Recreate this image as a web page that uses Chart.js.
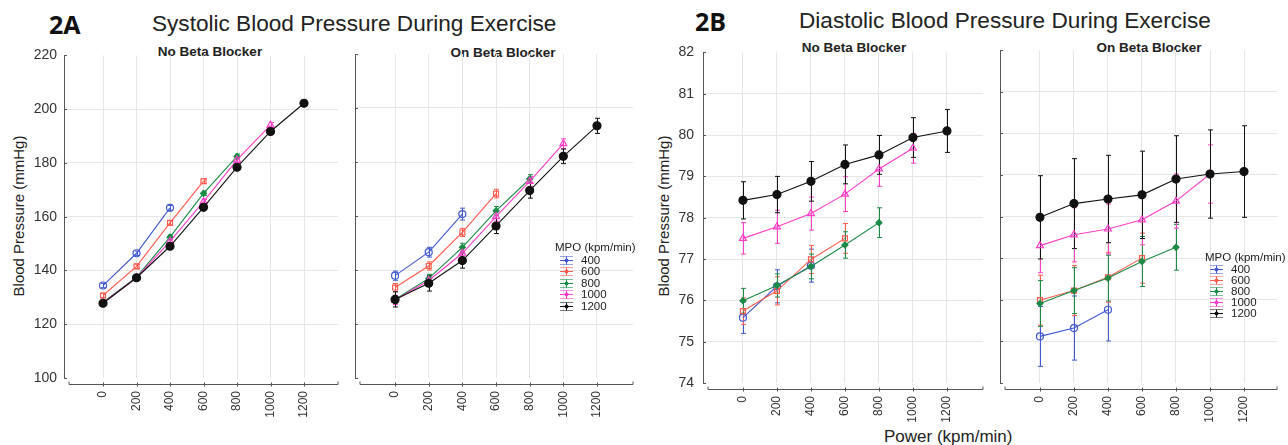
<!DOCTYPE html>
<html lang="en">
<head>
<meta charset="UTF-8">
<title>Blood Pressure During Exercise</title>
<script src="https://cdn.jsdelivr.net/npm/chart.js@4.4.1/dist/chart.umd.min.js"></script>
<style>
  body { margin: 0; background: #fff; width: 1288px; height: 445px; position: relative; overflow: hidden;
         font-family: 'Liberation Sans', Arial, sans-serif; }
  .wrap { position: absolute; }
  .lbl { position: absolute; color: #222; white-space: nowrap; line-height: 1; transform: translateY(-50%); }
  .panel { font-family: 'Open Sans', sans-serif; font-weight: 700; font-size: 25px; color: #111; }
  .title { font-size: 22.6px; }
  .sub { font-weight: 700; font-size: 13.5px; transform: translate(-50%, -50%); }
  .ylab { font-size: 15px; transform: translate(-50%, -50%) rotate(-90deg); }
  .xlab { font-size: 17px; }
</style>
</head>
<body>

<div class="lbl panel" style="left:49px; top:24px;">2A</div>
<div class="lbl title" style="left:152px; top:24px;">Systolic Blood Pressure During Exercise</div>
<div class="lbl panel" style="left:695px; top:21px;">2B</div>
<div class="lbl title" style="left:799px; top:21px;">Diastolic Blood Pressure During Exercise</div>

<div class="lbl sub" style="left:210px; top:52px;">No Beta Blocker</div>
<div class="lbl sub" style="left:503px; top:53px;">On Beta Blocker</div>
<div class="lbl sub" style="left:854px; top:48px;">No Beta Blocker</div>
<div class="lbl sub" style="left:1149px; top:48px;">On Beta Blocker</div>

<div class="lbl ylab" style="left:18px; top:216px;">Blood Pressure (mmHg)</div>
<div class="lbl ylab" style="left:663px; top:216px;">Blood Pressure (mmHg)</div>
<div class="lbl xlab" style="left:884px; top:436px;">Power (kpm/min)</div>

<div class="wrap"><canvas id="sysNo"></canvas></div>
<div class="wrap"><canvas id="sysOn"></canvas></div>
<div class="wrap"><canvas id="diaNo"></canvas></div>
<div class="wrap"><canvas id="diaOn"></canvas></div>

<script>
// MPO groups (kpm/min) and power stages on the x axis
const mpoLevels = [400, 600, 800, 1000, 1200];
const powerTicks = [0, 200, 400, 600, 800, 1000, 1200];

// Systolic, no beta blocker (one row per MPO group)
const sysNoMean = [
  [134.4, 146.4, 163.3],
  [130.7, 141.5, 157.7, 173.2],
  [128.2, 137.5, 152.4, 168.7, 182.4],
  [128.0, 137.3, 150.8, 165.6, 181.1, 194.1],
  [127.8, 137.3, 149.0, 163.5, 178.4, 191.7, 202.2]
];
const sysNoErr = [
  [0.8, 0.8, 0.9],
  [0.8, 0.8, 0.8, 0.9],
  [0.7, 0.7, 0.8, 0.8, 0.9],
  [0.7, 0.7, 0.8, 0.8, 0.9, 0.9],
  [0.7, 0.7, 0.8, 0.8, 0.9, 0.9, 1.0]
];

// Systolic, on beta blocker
const sysOnMean = [
  [137.9, 146.6, 160.7],
  [133.5, 141.5, 153.9, 168.3],
  [129.1, 136.9, 148.4, 161.9, 173.7],
  [128.9, 136.1, 146.2, 159.8, 172.8, 186.8],
  [129.1, 135.1, 143.5, 156.3, 169.4, 182.1, 193.4]
];
const sysOnErr = [
  [1.7, 1.8, 2.2],
  [1.5, 1.5, 1.5, 1.6],
  [1.5, 1.5, 1.5, 1.6, 1.6],
  [1.7, 1.7, 1.7, 1.7, 1.8, 1.8],
  [2.8, 2.9, 2.8, 2.8, 2.8, 2.7, 2.8]
];

// Diastolic, no beta blocker
const diaNoMean = [
  [75.58, 76.34, 76.84],
  [75.74, 76.23, 76.99, 77.50],
  [75.99, 76.36, 76.82, 77.34, 77.88],
  [77.50, 77.78, 78.10, 78.57, 79.18, 79.68],
  [78.42, 78.56, 78.88, 79.29, 79.52, 79.94, 80.10]
];
const diaNoErr = [
  [0.38, 0.40, 0.40],
  [0.32, 0.34, 0.34, 0.36],
  [0.30, 0.28, 0.30, 0.32, 0.36],
  [0.38, 0.40, 0.40, 0.42, 0.42, 0.36],
  [0.45, 0.44, 0.48, 0.47, 0.47, 0.48, 0.52]
];

// Diastolic, on beta blocker
const diaOnMean = [
  [75.12, 75.32, 75.76],
  [75.99, 76.22, 76.54, 77.00],
  [75.91, 76.22, 76.52, 76.92, 77.26],
  [77.30, 77.56, 77.70, 77.92, 78.37, 79.02],
  [77.98, 78.31, 78.42, 78.52, 78.90, 79.02, 79.08]
];
const diaOnErr = [
  [0.72, 0.77, 0.75],
  [0.60, 0.60, 0.60, 0.60],
  [0.55, 0.55, 0.55, 0.60, 0.55],
  [0.65, 0.65, 0.60, 0.60, 0.65, 0.70],
  [1.00, 1.08, 1.05, 1.05, 1.04, 1.06, 1.10]
];

const colors = ['#4058d0', '#ff5a4e', '#1a8a45', '#ff3ec8', '#111111'];
const fills = ['rgba(0,0,0,0)', 'rgba(0,0,0,0)', '#1a8a45', 'rgba(0,0,0,0)', '#111111'];
const styles = ['circle', 'rect', 'rectRot', 'triangle', 'circle'];
const radii = [3.5, 3.5, 3, 4, 4];

Chart.defaults.font.family = "'Liberation Sans', Arial, sans-serif";
Chart.defaults.color = '#333';

// error bars, detached x axis, inward y ticks and the MPO legend
const decor = {
  id: 'decor',
  beforeDatasetsDraw(chart) {
    const { ctx, scales: { x, y } } = chart;
    chart.data.datasets.forEach(ds => {
      ctx.save();
      ctx.strokeStyle = ds.borderColor;
      ctx.lineWidth = 1;
      ctx.beginPath();
      ds.data.forEach((p, i) => {
        const e = ds.errs[i];
        const px = Math.round(x.getPixelForValue(p.x)) + 0.5;
        const y1 = y.getPixelForValue(p.y - e), y2 = y.getPixelForValue(p.y + e);
        ctx.moveTo(px, y1); ctx.lineTo(px, y2);
        ctx.moveTo(px - 2.5, y1); ctx.lineTo(px + 2.5, y1);
        ctx.moveTo(px - 2.5, y2); ctx.lineTo(px + 2.5, y2);
      });
      ctx.stroke();
      ctx.restore();
    });
  },
  afterDraw(chart, args, opts) {
    const { ctx, chartArea: a, scales: { x, y } } = chart;
    ctx.save();
    ctx.strokeStyle = '#555';
    ctx.lineWidth = 1;
    ctx.beginPath();
    const yb = Math.round(a.bottom + 6) + 0.5;
    ctx.moveTo(a.left + 5, yb - 3); ctx.lineTo(a.left + 5, yb); ctx.lineTo(a.right, yb); ctx.lineTo(a.right, yb - 3);
    powerTicks.forEach(v => {
      const px = Math.round(x.getPixelForValue(v)) + 0.5;
      ctx.moveTo(px, yb - 2); ctx.lineTo(px, yb + 2);
    });
    y.ticks.forEach(t => {
      const py = Math.round(y.getPixelForValue(t.value)) + 0.5;
      ctx.moveTo(a.left, py); ctx.lineTo(a.left + 3, py);
    });
    ctx.stroke();

    if (opts.legend) {
      const L = opts.legend;
      ctx.font = "11.5px 'Liberation Sans', Arial, sans-serif";
      ctx.textBaseline = 'middle';
      ctx.fillStyle = '#222';
      ctx.fillText('MPO (kpm/min)', L.x, L.y);
      chart.data.datasets.forEach((ds, i) => {
        const yy = Math.round(L.y + L.step * (i + 1)) + 0.5;
        const x0 = L.x + 5, x1 = L.x + 18, xm = (x0 + x1) / 2;
        ctx.strokeStyle = ds.borderColor;
        ctx.globalAlpha = 0.55;
        ctx.beginPath();
        ctx.moveTo(x0, yy - 4); ctx.lineTo(x1, yy - 4);
        ctx.moveTo(x0, yy + 4); ctx.lineTo(x1, yy + 4);
        ctx.stroke();
        ctx.globalAlpha = 1;
        ctx.beginPath();
        ctx.moveTo(x0, yy); ctx.lineTo(x1, yy);
        ctx.moveTo(xm, yy - 4); ctx.lineTo(xm, yy + 4);
        ctx.stroke();
        ctx.fillStyle = ds.borderColor;
        ctx.beginPath(); ctx.arc(xm, yy, 2, 0, Math.PI * 2); ctx.fill();
        ctx.fillStyle = '#222';
        ctx.fillText(ds.label, L.x + 26, yy);
      });
    }
    ctx.restore();
  }
};

function makeChart(id, box, area, xr, yr, means, errs, showY, legend) {
  const canvas = document.getElementById(id);
  Object.assign(canvas.parentNode.style, {
    left: box.l + 'px', top: box.t + 'px',
    width: (box.r - box.l) + 'px', height: (box.b - box.t) + 'px'
  });
  const gridCol = '#e6e6e6';
  return new Chart(canvas, {
    type: 'line',
    data: {
      datasets: mpoLevels.map((m, i) => ({
        label: String(m),
        data: means[i].map((v, j) => ({ x: powerTicks[j], y: v })),
        errs: errs[i],
        borderColor: colors[i],
        backgroundColor: fills[i],
        pointBorderColor: colors[i],
        pointBackgroundColor: fills[i],
        pointStyle: styles[i],
        pointRadius: radii[i],
        pointBorderWidth: 1.2,
        borderWidth: 1.1,
        tension: 0,
        order: mpoLevels.length - i
      }))
    },
    options: {
      responsive: true,
      maintainAspectRatio: false,
      animation: false,
      events: [],
      layout: { padding: { top: area.t - box.t, right: box.r - area.r, left: 0, bottom: 0 } },
      plugins: { legend: { display: false }, tooltip: { enabled: false }, decor: { legend: legend } },
      scales: {
        x: {
          type: 'linear', min: xr[0], max: xr[1],
          afterBuildTicks: s => { s.ticks = powerTicks.map(v => ({ value: v })); },
          afterFit: s => { s.height = box.b - area.b; },
          grid: { color: gridCol, drawTicks: false },
          border: { display: false },
          ticks: { minRotation: 90, maxRotation: 90, padding: 13, autoSkip: false,
                   font: { size: 12 }, color: '#333', callback: v => String(v) }
        },
        y: {
          min: yr[0], max: yr[1],
          afterFit: s => { s.width = area.l - box.l; },
          grid: {
            drawTicks: false,
            color: c => (c.tick && (c.tick.value === yr[0] || c.tick.value === yr[1])) ? 'rgba(0,0,0,0)' : gridCol
          },
          border: { display: true, color: '#555' },
          ticks: { stepSize: yr[2], display: showY, padding: yr[3], font: { size: 14 }, color: '#333' }
        }
      }
    },
    plugins: [decor]
  });
}

makeChart('sysNo', { l: 0, t: 40, r: 345, b: 440 }, { l: 64, t: 54, r: 338, b: 378 },
  [-233, 1403], [100, 220, 20, 7], sysNoMean, sysNoErr, true, null);
makeChart('sysOn', { l: 345, t: 40, r: 645, b: 440 }, { l: 355, t: 54, r: 633, b: 378 },
  [-238, 1414], [100, 220, 20, 7], sysOnMean, sysOnErr, false, { x: 555 - 345, y: 248 - 40, step: 11.6 });
makeChart('diaNo', { l: 645, t: 35, r: 990, b: 440 }, { l: 703, t: 50, r: 983, b: 383 },
  [-235, 1412], [74, 82, 1, 9], diaNoMean, diaNoErr, true, null);
makeChart('diaOn', { l: 990, t: 35, r: 1288, b: 440 }, { l: 1000, t: 50, r: 1277, b: 383 },
  [-235, 1394], [74, 82, 1, 9], diaOnMean, diaOnErr, false, { x: 1205 - 990, y: 258 - 35, step: 11 });
</script>
</body>
</html>
